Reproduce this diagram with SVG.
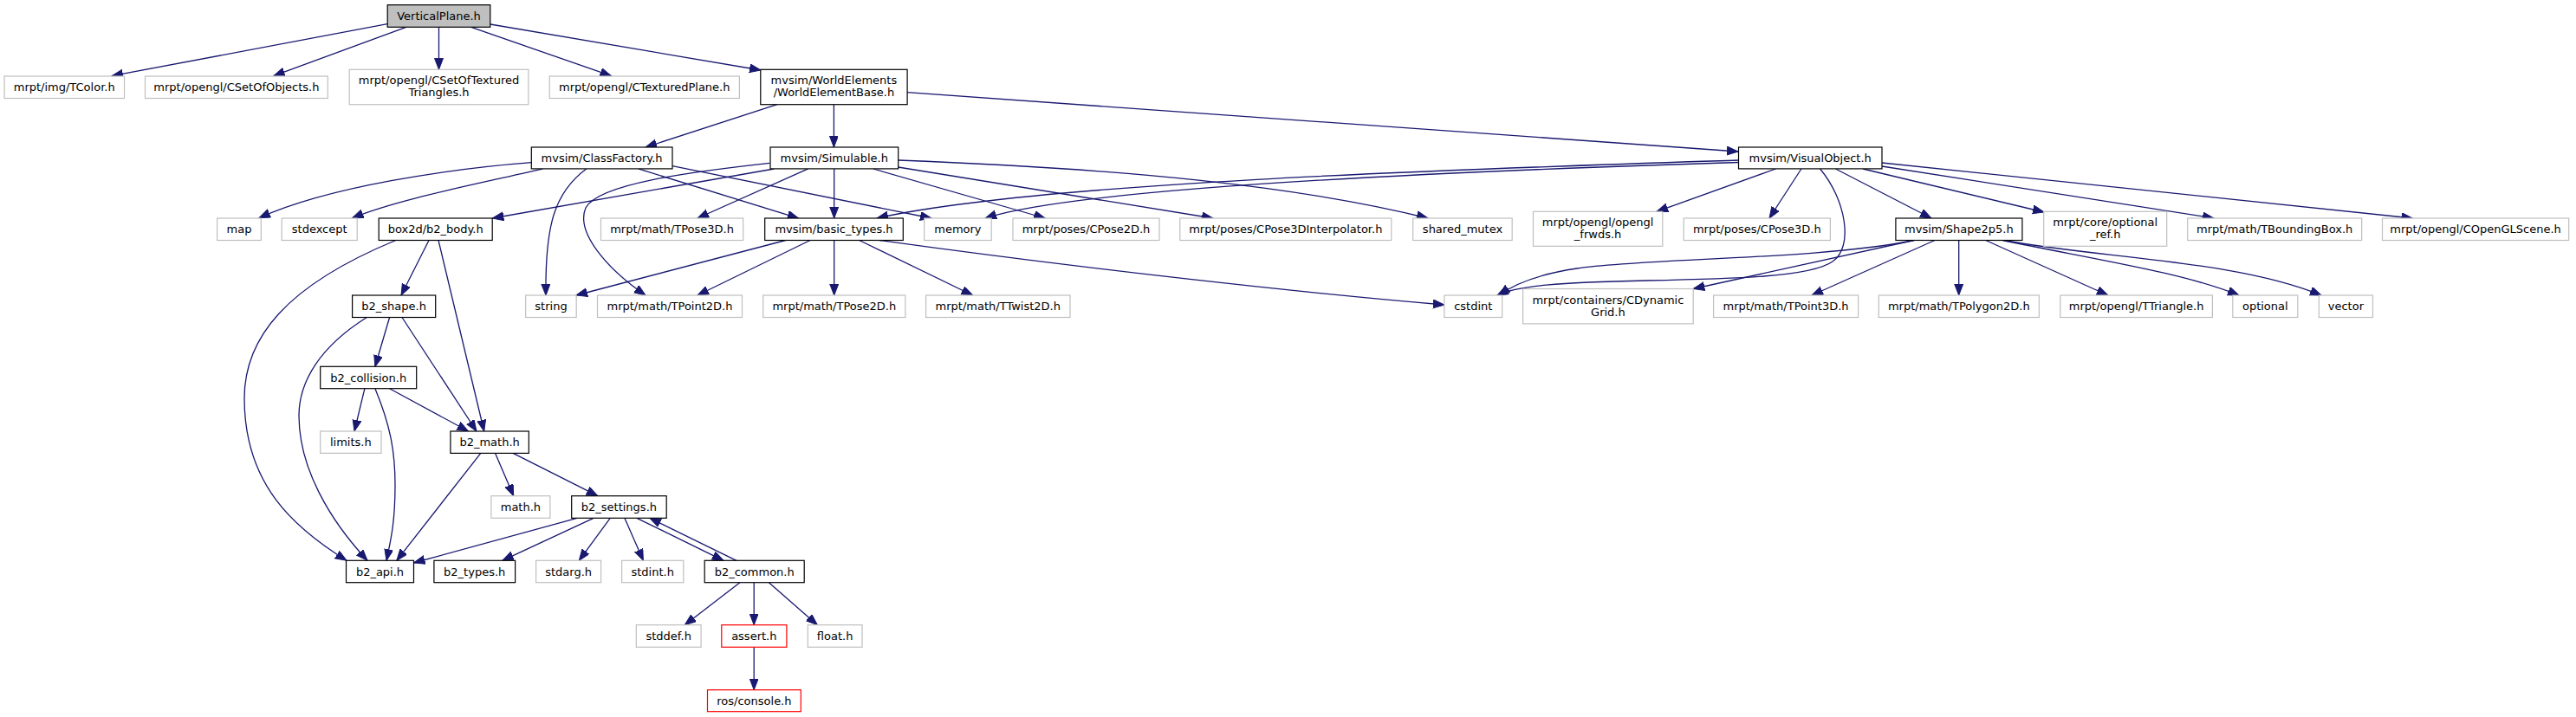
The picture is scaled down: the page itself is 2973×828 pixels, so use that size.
<svg xmlns="http://www.w3.org/2000/svg" width="2973" height="828" viewBox="0 0 2973 828">
<style>
rect{fill:#fff;stroke:#bfbfbf;stroke-width:1.2}
.d rect{stroke:#000}
.r rect{stroke:#ff0000}
.root rect{fill:#bfbfbf;stroke:#000}
text{font-family:"DejaVu Sans",sans-serif;font-size:13px;text-anchor:middle;fill:#000}
.e path{fill:none;stroke:#191970;stroke-width:1.3;marker-end:url(#a)}
</style>
<defs>
<marker id="a" markerUnits="userSpaceOnUse" markerWidth="14" markerHeight="11" refX="13" refY="5" orient="auto" viewBox="0 0 14 11">
<path d="M0,0 L13,5 L0,10 Z" fill="#191970" stroke="#191970" stroke-width="1"/>
</marker>
</defs>
<rect x="0" y="0" width="2973" height="828" style="fill:#fff;stroke:none"/>
<g class="e" id="edges">
<path d="M447,27.7 L129,87.7"/>
<path d="M468.7,31.3 L315.7,87.7"/>
<path d="M506.5,31.3 L506.5,80.3"/>
<path d="M543.8,31.3 L705.5,87.7"/>
<path d="M565.8,28 L878,81"/>
<path d="M896.9,120.7 L745,170"/>
<path d="M962.4,120.7 L962.4,170"/>
<path d="M1047,106.7 L2006,175"/>
<path d="M613.3,187.7 C520,195 380,215 299,251.7"/>
<path d="M626.6,194.9 C540,215 460,230 406.6,251.7"/>
<path d="M676.7,194.9 C640,222 629,260 630,341"/>
<path d="M736.7,194.9 L921.7,252.2"/>
<path d="M776,191.7 L1075,252"/>
<path d="M893.3,195 L568.3,252"/>
<path d="M888.3,188.3 C800,198 690,212 676,240 C664,268 700,310 745,341"/>
<path d="M932.7,194.9 L805,252"/>
<path d="M962.7,194.9 L962.7,252"/>
<path d="M1007.9,195 L1206.3,252"/>
<path d="M1036.6,193 L1400,252"/>
<path d="M1036.6,185 C1300,195 1500,215 1648,252"/>
<path d="M2006.5,185 C1700,195 1200,210 1012,252"/>
<path d="M2006.5,187.5 C1700,197 1250,215 1137,252"/>
<path d="M2049.3,195 L1912,244.3"/>
<path d="M2078.9,195 L2042,252"/>
<path d="M2100.6,195 C2130,230 2140,285 2115,302 C2090,320 2000,322 1900,324 C1800,326 1750,330 1728,341"/>
<path d="M2118.5,195 L2229,252"/>
<path d="M2150,195 L2359,245"/>
<path d="M2172,192 L2555,252"/>
<path d="M2172,188 L2784.4,252"/>
<path d="M495,277.5 L463,341"/>
<path d="M506,277.5 L558.7,498"/>
<path d="M456.8,277.5 C330,330 282,390 282,460 C282,560 340,610 400,647.3"/>
<path d="M449.6,366.5 L432.9,423.3"/>
<path d="M464,366.5 L550,498"/>
<path d="M423.3,366.5 C370,400 345,440 345,480 C345,540 380,600 424,647.3"/>
<path d="M420.9,448.7 L409,498"/>
<path d="M449.6,448.7 L540.5,498"/>
<path d="M432.9,448.7 C450,490 456,520 456,560 C456,600 452,620 446,647.3"/>
<path d="M571.6,523.4 L592.7,572.7"/>
<path d="M592.1,523.4 L689.8,572.7"/>
<path d="M554.8,523.4 L457.8,647.3"/>
<path d="M665.9,598.3 L477.5,650"/>
<path d="M685,598.3 L579.8,647.3"/>
<path d="M704.2,598.3 L668.3,647.3"/>
<path d="M720.9,598.3 L742.4,647.3"/>
<path d="M735,598.3 L835,647.3"/>
<path d="M850,647.3 L750,598.3"/>
<path d="M853.9,672.7 L790.3,721.7"/>
<path d="M870.2,672.7 L870.2,721.7"/>
<path d="M887.4,672.7 L943.3,721.7"/>
<path d="M870.2,747.3 L870.2,796.7"/>
<path d="M906.7,277.5 L665,341"/>
<path d="M935,277.5 L805,341"/>
<path d="M962.7,277.5 L962.7,341"/>
<path d="M991.7,277.5 L1122.6,341"/>
<path d="M1015,277.5 C1250,310 1500,338 1666.9,352"/>
<path d="M2209,277.5 C2100,300 1900,298 1820,310 C1780,316 1750,326 1730,341"/>
<path d="M2209,277.5 L1954.3,333.5"/>
<path d="M2233,277.5 L2091,341"/>
<path d="M2260.7,277.5 L2260.7,341"/>
<path d="M2291.7,277.5 L2432.8,341"/>
<path d="M2311,277.5 C2420,300 2520,315 2584,341"/>
<path d="M2313,277.5 C2420,298 2580,300 2679,341"/>
</g>
<g id="VerticalPlane" class="root"><rect x="447.2" y="5.7" width="118.6" height="25.6"/><text x="506.5" y="23">VerticalPlane.h</text></g>
<g id="TColor"><rect x="5" y="88" width="138.5" height="25.5"/><text x="74.2" y="105.2">mrpt/img/TColor.h</text></g>
<g id="CSetOfObjects"><rect x="167.5" y="88" width="210.8" height="25.5"/><text x="272.9" y="105.2">mrpt/opengl/CSetOfObjects.h</text></g>
<g id="CSetOfTexturedTriangles"><rect x="403.2" y="80.3" width="206.6" height="40.4"/><text x="506.5" y="97.3">mrpt/opengl/CSetOfTextured</text><text x="506.5" y="111.3">Triangles.h</text></g>
<g id="CTexturedPlane"><rect x="634.2" y="88" width="219.2" height="25.5"/><text x="743.8" y="105.2">mrpt/opengl/CTexturedPlane.h</text></g>
<g id="WorldElementBase" class="d"><rect x="877.8" y="80.3" width="169.3" height="40.4"/><text x="962.4" y="97.3">mvsim/WorldElements</text><text x="962.4" y="111.3">/WorldElementBase.h</text></g>
<g id="ClassFactory" class="d"><rect x="613.3" y="170" width="162.7" height="24.9"/><text x="694.6" y="187">mvsim/ClassFactory.h</text></g>
<g id="Simulable" class="d"><rect x="889" y="170" width="147.7" height="24.9"/><text x="962.8" y="187">mvsim/Simulable.h</text></g>
<g id="VisualObject" class="d"><rect x="2006.5" y="170" width="165.5" height="24.9"/><text x="2089.2" y="187">mvsim/VisualObject.h</text></g>
<g id="map"><rect x="250.6" y="252" width="50.7" height="25.5"/><text x="276" y="269.2">map</text></g>
<g id="stdexcept"><rect x="325.2" y="252" width="87" height="25.5"/><text x="368.7" y="269.2">stdexcept</text></g>
<g id="b2_body" class="d"><rect x="437.2" y="252" width="131" height="25.5"/><text x="502.7" y="269.2">box2d/b2_body.h</text></g>
<g id="TPose3D"><rect x="693.5" y="252" width="164.2" height="25.5"/><text x="775.6" y="269.2">mrpt/math/TPose3D.h</text></g>
<g id="basic_types" class="d"><rect x="882.7" y="252" width="159.6" height="25.5"/><text x="962.5" y="269.2">mvsim/basic_types.h</text></g>
<g id="memory"><rect x="1066.7" y="252" width="77.5" height="25.5"/><text x="1105.4" y="269.2">memory</text></g>
<g id="CPose2D"><rect x="1169" y="252" width="169" height="25.5"/><text x="1253.5" y="269.2">mrpt/poses/CPose2D.h</text></g>
<g id="CPose3DInterpolator"><rect x="1361.8" y="252" width="244" height="25.5"/><text x="1483.8" y="269.2">mrpt/poses/CPose3DInterpolator.h</text></g>
<g id="shared_mutex"><rect x="1630.7" y="252" width="114.5" height="25.5"/><text x="1688" y="269.2">shared_mutex</text></g>
<g id="opengl_frwds"><rect x="1769.5" y="244.3" width="149.3" height="40"/><text x="1844.1" y="261.3">mrpt/opengl/opengl</text><text x="1844.1" y="275.3">_frwds.h</text></g>
<g id="CPose3D"><rect x="1943.2" y="252" width="169.2" height="25.5"/><text x="2027.8" y="269.2">mrpt/poses/CPose3D.h</text></g>
<g id="Shape2p5" class="d"><rect x="2187.9" y="252" width="146" height="25.5"/><text x="2260.9" y="269.2">mvsim/Shape2p5.h</text></g>
<g id="optional_ref"><rect x="2358.7" y="244.3" width="142" height="40"/><text x="2429.7" y="261.3">mrpt/core/optional</text><text x="2429.7" y="275.3">_ref.h</text></g>
<g id="TBoundingBox"><rect x="2524.7" y="252" width="201" height="25.5"/><text x="2625.2" y="269.2">mrpt/math/TBoundingBox.h</text></g>
<g id="COpenGLScene"><rect x="2749.5" y="252" width="215.2" height="25.5"/><text x="2857.1" y="269.2">mrpt/opengl/COpenGLScene.h</text></g>
<g id="b2_shape" class="d"><rect x="406.6" y="341" width="96.1" height="25.5"/><text x="454.6" y="358.2">b2_shape.h</text></g>
<g id="string"><rect x="606.7" y="341" width="58.5" height="25.5"/><text x="636" y="358.2">string</text></g>
<g id="TPoint2D"><rect x="689.5" y="341" width="167" height="25.5"/><text x="773" y="358.2">mrpt/math/TPoint2D.h</text></g>
<g id="TPose2D"><rect x="880.7" y="341" width="164.2" height="25.5"/><text x="962.8" y="358.2">mrpt/math/TPose2D.h</text></g>
<g id="TTwist2D"><rect x="1068.6" y="341" width="166.4" height="25.5"/><text x="1151.8" y="358.2">mrpt/math/TTwist2D.h</text></g>
<g id="cstdint"><rect x="1666.9" y="341" width="66.8" height="25.5"/><text x="1700.3" y="358.2">cstdint</text></g>
<g id="CDynamicGrid"><rect x="1757.6" y="333.5" width="196.6" height="40.4"/><text x="1855.9" y="350.5">mrpt/containers/CDynamic</text><text x="1855.9" y="364.5">Grid.h</text></g>
<g id="TPoint3D"><rect x="1977.6" y="341" width="167" height="25.5"/><text x="2061.1" y="358.2">mrpt/math/TPoint3D.h</text></g>
<g id="TPolygon2D"><rect x="2168.3" y="341" width="185" height="25.5"/><text x="2260.8" y="358.2">mrpt/math/TPolygon2D.h</text></g>
<g id="TTriangle"><rect x="2377.8" y="341" width="175.6" height="25.5"/><text x="2465.6" y="358.2">mrpt/opengl/TTriangle.h</text></g>
<g id="optional"><rect x="2576.8" y="341" width="75" height="25.5"/><text x="2614.3" y="358.2">optional</text></g>
<g id="vector"><rect x="2676.3" y="341" width="62.2" height="25.5"/><text x="2707.4" y="358.2">vector</text></g>
<g id="b2_collision" class="d"><rect x="369.7" y="423.3" width="111" height="25.4"/><text x="425.2" y="440.5">b2_collision.h</text></g>
<g id="limits"><rect x="369.7" y="498" width="70.3" height="25.4"/><text x="404.8" y="515.2">limits.h</text></g>
<g id="b2_math" class="d"><rect x="519.9" y="498" width="90.4" height="25.4"/><text x="565.1" y="515.2">b2_math.h</text></g>
<g id="math"><rect x="566.9" y="572.7" width="68" height="25.6"/><text x="600.9" y="590">math.h</text></g>
<g id="b2_settings" class="d"><rect x="659.7" y="572.7" width="109.5" height="25.6"/><text x="714.4" y="590">b2_settings.h</text></g>
<g id="b2_api" class="d"><rect x="399.5" y="647.3" width="78" height="25.4"/><text x="438.5" y="664.5">b2_api.h</text></g>
<g id="b2_types" class="d"><rect x="500.9" y="647.3" width="93.7" height="25.4"/><text x="547.7" y="664.5">b2_types.h</text></g>
<g id="stdarg"><rect x="618.6" y="647.3" width="75" height="25.4"/><text x="656.1" y="664.5">stdarg.h</text></g>
<g id="stdint"><rect x="717.6" y="647.3" width="71.2" height="25.4"/><text x="753.2" y="664.5">stdint.h</text></g>
<g id="b2_common" class="d"><rect x="813.2" y="647.3" width="115" height="25.4"/><text x="870.7" y="664.5">b2_common.h</text></g>
<g id="stddef"><rect x="734.3" y="721.7" width="74.8" height="25.6"/><text x="771.7" y="739">stddef.h</text></g>
<g id="assert" class="r"><rect x="832.8" y="721.7" width="75.1" height="25.6"/><text x="870.3" y="739">assert.h</text></g>
<g id="float"><rect x="932.3" y="721.7" width="62.7" height="25.6"/><text x="963.6" y="739">float.h</text></g>
<g id="ros_console" class="r"><rect x="816.5" y="796.7" width="107.8" height="25"/><text x="870.4" y="813.7">ros/console.h</text></g>
</svg>
